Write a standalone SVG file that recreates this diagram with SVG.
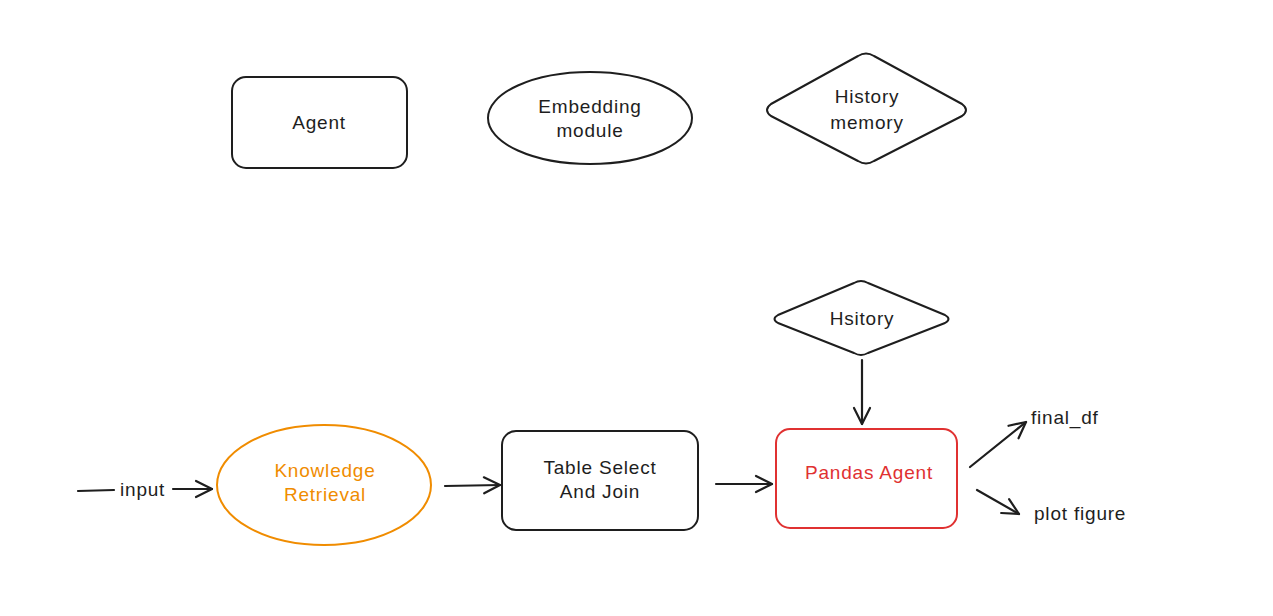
<svg xmlns="http://www.w3.org/2000/svg" width="1273" height="616" viewBox="0 0 1273 616">
<style>
.s{fill:none;stroke:#1e1e1e;stroke-width:2;stroke-linejoin:round;stroke-linecap:round}
.t{font-family:"Liberation Sans",Arial,sans-serif;font-size:19px;letter-spacing:0.8px;fill:#1e1e1e;text-anchor:middle;dominant-baseline:middle}
.l{text-anchor:start}
.c{fill:none;stroke:#1e1e1e;stroke-width:2.2;stroke-linecap:round}
</style>
<defs>
<marker id="ah" viewBox="0 0 20 20" refX="18" refY="10" markerWidth="20" markerHeight="20" markerUnits="userSpaceOnUse" orient="auto">
<path d="M2,2 L18,10 L2,18" fill="none" stroke="#1e1e1e" stroke-width="2.2" stroke-linecap="round" stroke-linejoin="round"/>
</marker>
</defs>
<rect width="1273" height="616" fill="#ffffff"/>
<g id="agent">
<rect class="s" x="232" y="77" width="175" height="91" rx="14"/>
<text class="t" x="319" y="124">Agent</text>
</g>
<g id="embedding">
<ellipse class="s" cx="590" cy="118" rx="102" ry="46"/>
<text class="t" x="590" y="108">Embedding</text>
<text class="t" x="590" y="132">module</text>
</g>
<g id="history-memory">
<path class="s" d="M858,56 Q866,51 874,56 L962,104 Q970,110 962,116 L874,161 Q866,166 858,161 L771,116 Q763,110 771,104 Z"/>
<text class="t" x="867" y="98">History</text>
<text class="t" x="867" y="124">memory</text>
</g>
<g id="hsitory">
<path class="s" d="M854,283 Q861,279 868,283 L945,315 Q952,319 945,323 L868,353 Q861,357 854,353 L778,323 Q771,319 778,315 Z"/>
<text class="t" x="862" y="320">Hsitory</text>
</g>
<g id="knowledge">
<ellipse cx="324" cy="485" rx="107" ry="60" fill="none" stroke="#f08c00" stroke-width="2"/>
<text class="t" x="325" y="472" style="fill:#f08c00">Knowledge</text>
<text class="t" x="325" y="496" style="fill:#f08c00">Retrieval</text>
</g>
<g id="table-select">
<rect class="s" x="502" y="431" width="196" height="99" rx="14"/>
<text class="t" x="600" y="469">Table Select</text>
<text class="t" x="600" y="493">And Join</text>
</g>
<g id="pandas-agent">
<rect x="776" y="429" width="181" height="99" rx="14" fill="none" stroke="#e03131" stroke-width="2"/>
<text class="t" x="869" y="474" style="fill:#e03131">Pandas Agent</text>
</g>
<g id="connectors">
<line class="c" x1="78" y1="491" x2="114" y2="490"/>
<text class="t l" x="120" y="491">input</text>
<line class="c" x1="173" y1="489" x2="212" y2="489" marker-end="url(#ah)"/>
<line class="c" x1="445" y1="486" x2="500" y2="485" marker-end="url(#ah)"/>
<line class="c" x1="716" y1="484" x2="772" y2="484" marker-end="url(#ah)"/>
<line class="c" x1="862" y1="360" x2="862" y2="424" marker-end="url(#ah)"/>
<line class="c" x1="970" y1="467" x2="1026" y2="422" marker-end="url(#ah)"/>
<line class="c" x1="977" y1="490" x2="1019" y2="514" marker-end="url(#ah)"/>
<text class="t l" x="1031" y="419">final_df</text>
<text class="t l" x="1034" y="515">plot figure</text>
</g>
</svg>
